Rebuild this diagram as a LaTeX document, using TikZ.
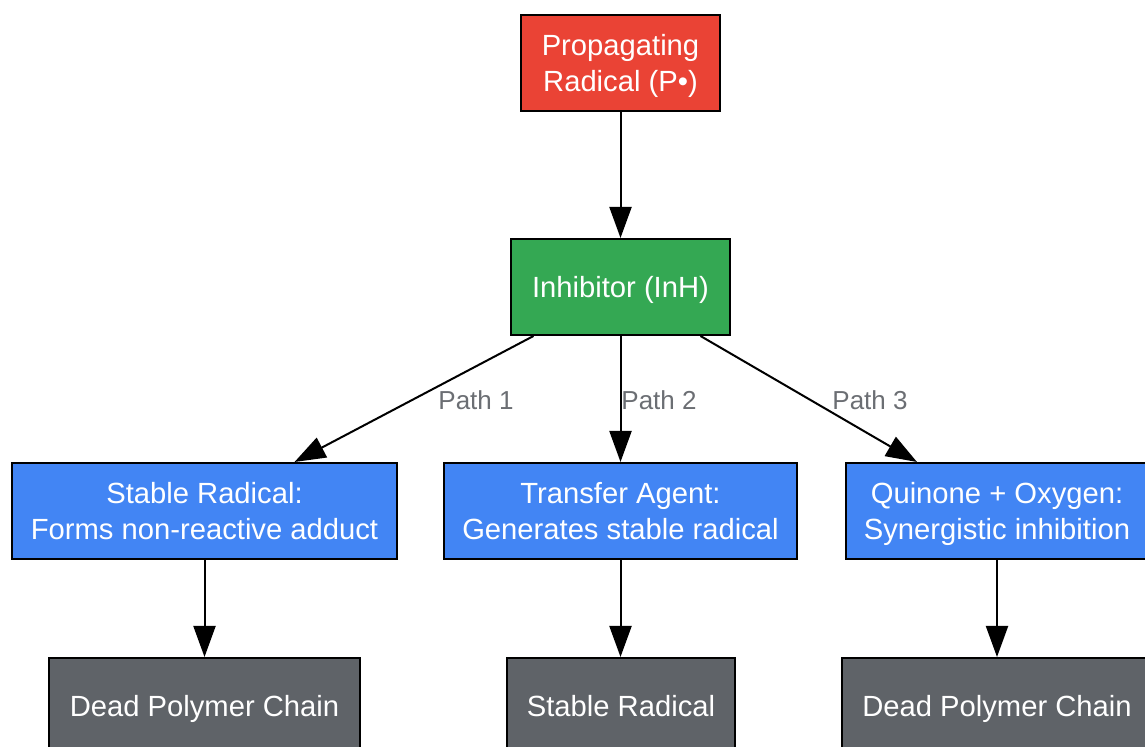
\documentclass[tikz,border=0pt]{standalone}
\usepackage{fontspec}
\setmainfont{Liberation Sans}
\usetikzlibrary{arrows.meta,calc}
\definecolor{cred}{HTML}{EA4335}
\definecolor{cgreen}{HTML}{34A853}
\definecolor{cblue}{HTML}{4285F4}
\definecolor{cgray}{HTML}{5F6368}
\definecolor{clabel}{HTML}{6B6E73}
\tikzset{
  box/.style={draw=black, line width=1pt, inner sep=0pt, minimum height=48pt, text depth=0pt, text=white, align=center, font=\fontsize{14.6pt}{17.7pt}\selectfont},
  conn/.style={line width=1pt, -{Triangle[length=15.5pt,width=11pt]}},
  lbl/.style={text=clabel, font=\fontsize{13pt}{15pt}\selectfont, inner sep=0pt}
}
\begin{document}
\begin{tikzpicture}[x=0.5pt,y=-0.5pt]
\useasboundingbox (0,0) rectangle (1145,747);
\clip (0,0) rectangle (1145,747);
\node[box, fill=cred, minimum width=99.5pt] (P) at (620.5,63) {Propagating\\Radical (P•)};
\node[box, fill=cgreen, minimum width=109.5pt] (I) at (620.5,287) {Inhibitor (InH)};
\node[box, fill=cblue, minimum width=192.5pt] (S1) at (204.5,511) {Stable Radical:\\Forms non-reactive adduct};
\node[box, fill=cblue, minimum width=176.5pt] (S2) at (620.5,511) {Transfer Agent:\\Generates stable radical};
\node[box, fill=cblue, minimum width=151pt] (S3) at (997,511) {Quinone + Oxygen:\\Synergistic inhibition};
\node[box, fill=cgray, minimum width=155.5pt] (D1) at (204.5,706) {Dead Polymer Chain};
\node[box, fill=cgray, minimum width=114pt] (D2) at (621,706) {Stable Radical};
\node[box, fill=cgray, minimum width=155pt] (D3) at (997,706) {Dead Polymer Chain};
\draw[conn] (P) -- (I);
\draw[conn] ($(I.south)+(-87,0)$) -- ($(S1.north)+(90,0)$);
\draw[conn] (I) -- (S2);
\draw[conn] ($(I.south)+(80,0)$) -- ($(S3.north)+(-80,0)$);
\draw[conn] (S1) -- (D1);
\draw[conn] (S2.south) -- (S2.south |- D2.north);
\draw[conn] (S3) -- (D3);
\node[lbl] (L1) at (476,400) {Path 1};
\node[lbl] (L2) at (659,400) {Path 2};
\node[lbl] (L3) at (870,400) {Path 3};
\end{tikzpicture}
\end{document}
